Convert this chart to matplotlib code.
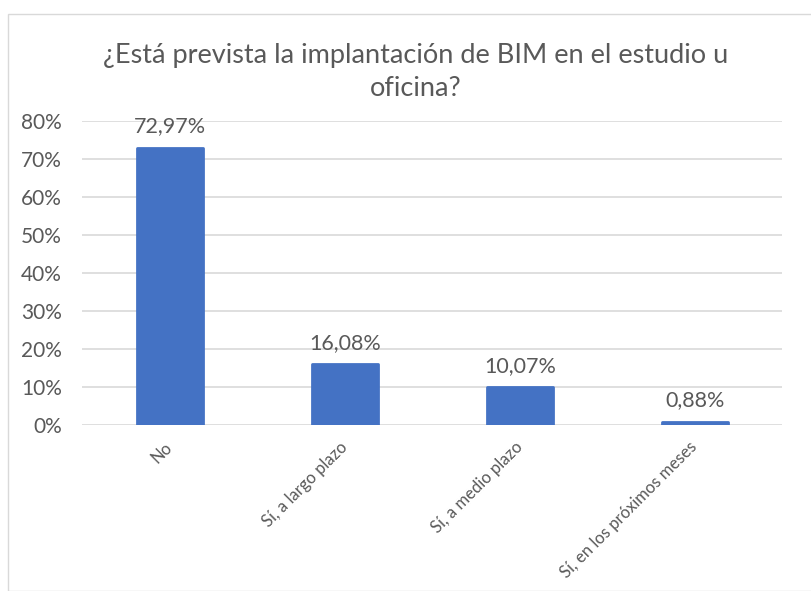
import matplotlib
matplotlib.use("Agg")
import matplotlib.pyplot as plt
from matplotlib.patches import Rectangle

categories = ["No", "Sí, a largo plazo", "Sí, a medio plazo", "Sí, en los próximos meses"]
values = [72.97, 16.08, 10.07, 0.88]
value_labels = ["72,97%", "16,08%", "10,07%", "0,88%"]
yticks = [0, 10, 20, 30, 40, 50, 60, 70, 80]
ytick_labels = ["0%", "10%", "20%", "30%", "40%", "50%", "60%", "70%", "80%"]
title = "¿Está prevista la implantación de BIM en el estudio u\noficina?"

plt.rcParams["font.family"] = ["Lato", "DejaVu Sans"]
text_color = "#595959"
bar_color = "#4472C4"

fig = plt.figure(figsize=(8.11, 5.91), dpi=100)
fig.patches.append(Rectangle((8 / 811, 0), 1.0, 1 - 14 / 591, transform=fig.transFigure,
                             fill=False, edgecolor="#D9D9D9", linewidth=1.0))

ax = fig.add_axes([0.1017, 0.2809, 0.863, 0.5144])
x = list(range(len(categories)))
ax.bar(x, values, width=0.38, color=bar_color, edgecolor=bar_color, linewidth=2,
       joinstyle="round", zorder=3)
for xi, v, lab in zip(x, values, value_labels):
    ax.annotate(lab, (xi, v), xytext=(0, 8), textcoords="offset points",
                ha="center", va="bottom", fontsize=15.5, color=text_color)

ax.set_xlim(-0.5, 3.5)
ax.set_ylim(0, 80)
ax.set_yticks(yticks)
ax.set_yticklabels(ytick_labels, fontsize=15, color=text_color)
ax.set_xticks(x)
ax.set_xticklabels(categories, rotation=45, ha="right", va="center",
                   rotation_mode="anchor", fontsize=12, color=text_color)
ax.tick_params(axis="both", length=0)
ax.tick_params(axis="y", pad=15)
ax.tick_params(axis="x", pad=14)
ax.grid(axis="y", color="#D9D9D9", linewidth=1.2, zorder=0)
for s in ax.spines.values():
    s.set_visible(False)

fig.text(416 / 811, 1 - 72 / 591, title, ha="center", va="center", fontsize=19.5,
         color=text_color, linespacing=1.35)

fig.savefig("out.png", dpi=100)
